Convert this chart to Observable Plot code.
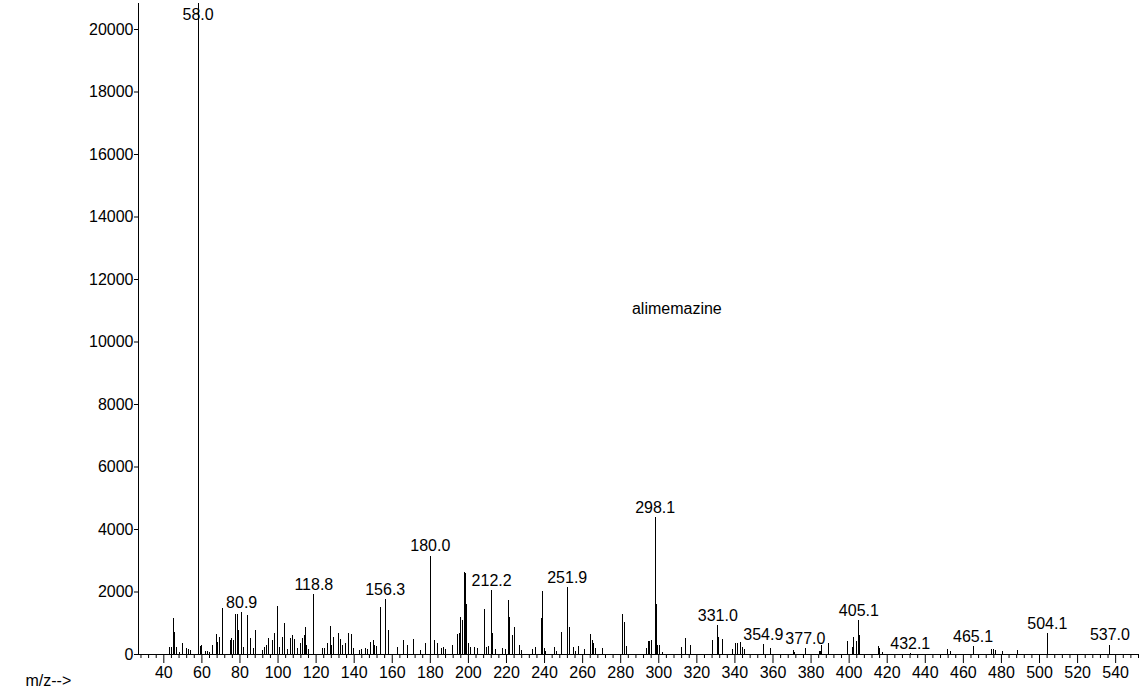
<!DOCTYPE html>
<html>
<head>
<meta charset="utf-8">
<script src="https://cdn.jsdelivr.net/npm/d3@7"></script>
<script src="https://cdn.jsdelivr.net/npm/@observablehq/plot@0.6"></script>
<style>
  html, body { margin: 0; padding: 0; background: #fff; }
  #chart svg { display: block; }
</style>
</head>
<body>
<div id="chart"></div>
<script>
// m/z values of each peak
const peakMz = [
  43.2, 44.0, 45.1, 45.4, 45.8, 46.5, 48.0, 50.0, 52.0, 53.0, 54.0,
  58.0, 59.2, 60.0, 61.7, 62.9, 64.0, 65.6, 67.9, 68.3, 69.0, 69.5,
  71.0, 74.9, 75.8, 76.6, 77.8, 78.5, 79.2, 80.9, 82.0, 84.0, 85.6,
  87.0, 88.3, 91.8, 92.9, 93.8, 95.2, 97.3, 98.3, 99.9, 101.0, 102.6,
  103.3, 104.9, 106.3, 107.5, 108.4, 110.3, 111.6, 113.1, 113.8, 114.3,
  115.0, 116.0, 118.8, 123.3, 124.3, 126.0, 127.5, 128.3, 128.9, 132.0,
  132.8, 133.8, 135.4, 137.1, 138.4, 139.4, 142.7, 144.0, 145.7, 147.0,
  148.8, 149.9, 150.8, 151.6, 153.9, 156.3, 158.1, 162.7, 166.1, 167.9,
  170.9, 174.6, 177.2, 180.0, 182.4, 183.6, 185.7, 187.1, 188.2, 191.7,
  194.2, 195.1, 196.1, 196.8, 198.0, 198.6, 199.2, 200.0, 201.3, 203.0,
  204.7, 208.2, 209.4, 210.4, 212.2, 212.9, 214.3, 218.0, 219.4, 221.0,
  221.7, 223.1, 224.1, 226.6, 228.0, 233.5, 235.2, 238.5, 238.9, 239.8,
  240.7, 245.0, 246.4, 248.9, 251.9, 252.9, 255.4, 256.3, 258.0, 261.0,
  264.2, 265.0, 265.8, 266.8, 270.7, 280.8, 281.9, 283.1, 293.3, 294.6,
  295.2, 296.3, 298.1, 298.9, 299.5, 300.3, 302.0, 311.9, 313.8, 316.5,
  328.2, 331.0, 331.4, 333.4, 338.6, 340.4, 341.2, 342.7, 344.0, 345.0,
  354.9, 358.5, 370.6, 371.5, 377.0, 384.3, 385.0, 385.7, 388.9, 399.1,
  401.7, 402.3, 403.9, 405.1, 405.6, 415.2, 415.8, 417.5, 432.1, 451.7,
  453.0, 465.1, 474.8, 475.9, 476.8, 480.7, 488.5, 504.1, 537.0
];
// abundance of each peak (same order)
const peakAbundance = [
  213, 235, 1150, 700, 250, 230, 80, 340, 180, 150, 120,
  20832, 245, 277, 96, 96, 60, 277, 640, 400, 533, 395,
  1462, 448, 501, 448, 1280, 1280, 768, 1344, 235, 1248, 501,
  181, 768, 128, 213, 277, 501, 448, 683, 1536, 213, 555,
  1003, 150, 501, 608, 469, 181, 341, 501, 600, 875,
  300, 150, 1920, 181, 181, 362, 896, 277, 555, 683,
  469, 277, 362, 683, 640, 181, 128, 150, 181, 150,
  395, 448, 277, 245, 1493, 1749, 768, 235, 448, 288,
  469, 128, 341, 3147, 448, 341, 181, 213, 150, 288,
  640, 683, 1173, 1088, 2635, 2600, 1600, 363, 235, 213,
  181, 1440, 235, 256, 2048, 661, 150, 181, 150, 1728,
  1173, 608, 875, 288, 128, 150, 235, 1141, 2005, 181,
  100, 235, 107, 715, 2133, 853, 235, 100, 256, 150,
  640, 448, 341, 181, 181, 1280, 1035, 267, 181, 416,
  416, 448, 4374, 1600, 300, 288, 60, 235, 523, 288,
  448, 928, 555, 480, 149, 341, 341, 395, 235, 150,
  320, 203, 128, 80, 181, 107, 107, 288, 341, 427,
  235, 555, 416, 1088, 608, 267, 181, 74, 30, 171,
  107, 256, 149, 149, 128, 107, 128, 661, 300
];
// labelled peaks
const labelMz = [58.0, 80.9, 118.8, 156.3, 180.0, 212.2, 251.9, 298.1, 331.0, 354.9, 377.0, 405.1, 432.1, 465.1, 504.1, 537.0];
const labelCeiling = 20160;

const xDomain = [26.7, 552];
const yDomain = [0, 20832];
const yTicks = [0, 2000, 4000, 6000, 8000, 10000, 12000, 14000, 16000, 18000, 20000];
const xMajorTicks = d3.range(40, 541, 20);
const xMinorTicks = d3.range(28, 553, 4).filter(v => v % 20 !== 0);

const compoundName = "alimemazine";
const compoundMz = 309.5;
const compoundAbundance = 11070;
const xAxisTitle = "m/z-->";

const peaks = peakMz.map((mz, i) => ({mz, v: peakAbundance[i]}));
const labels = labelMz.map(mz => {
  const p = peaks.find(q => Math.abs(q.mz - mz) < 0.05);
  return {mz, y: Math.min(p ? p.v : 0, labelCeiling)};
});

const chart = Plot.plot({
  width: 1147,
  height: 698,
  marginLeft: 138,
  marginRight: 9,
  marginTop: 3,
  marginBottom: 44,
  style: {
    fontFamily: "'Liberation Sans', Arial, sans-serif",
    fontSize: "16px",
    color: "#000",
    background: "#fff",
    overflow: "visible"
  },
  x: {domain: xDomain, nice: false},
  y: {domain: yDomain, nice: false},
  marks: [
    Plot.ruleX(peaks, {x: "mz", y1: 0, y2: "v", stroke: "#000", strokeWidth: 1, shapeRendering: "crispEdges"}),
    Plot.ruleY([0], {stroke: "#000", strokeWidth: 1.2, shapeRendering: "crispEdges"}),
    Plot.ruleX([xDomain[0]], {stroke: "#000", strokeWidth: 1.2, shapeRendering: "crispEdges"}),
    Plot.axisY({ticks: yTicks, tickSize: 4, tickPadding: 1, tickFormat: d => String(d), label: null, fontSize: 16}),
    Plot.axisX({ticks: xMajorTicks, tickSize: 9, tickPadding: 3, tickFormat: d => String(d), label: null, fontSize: 16}),
    Plot.axisX({ticks: xMinorTicks, tickSize: 4, tickFormat: () => "", label: null}),
    Plot.text(labels, {x: "mz", y: "y", text: d => d.mz.toFixed(1), dy: -10, fontSize: 16, fill: "#000"}),
    Plot.text([compoundName], {x: compoundMz, y: compoundAbundance, text: d => d, fontSize: 16, fill: "#000"}),
    Plot.text([xAxisTitle], {frameAnchor: "bottom-left", text: d => d, textAnchor: "start", dx: -113, dy: 31, fontSize: 16, fill: "#000"})
  ]
});
document.getElementById("chart").appendChild(chart);
</script>
</body>
</html>
